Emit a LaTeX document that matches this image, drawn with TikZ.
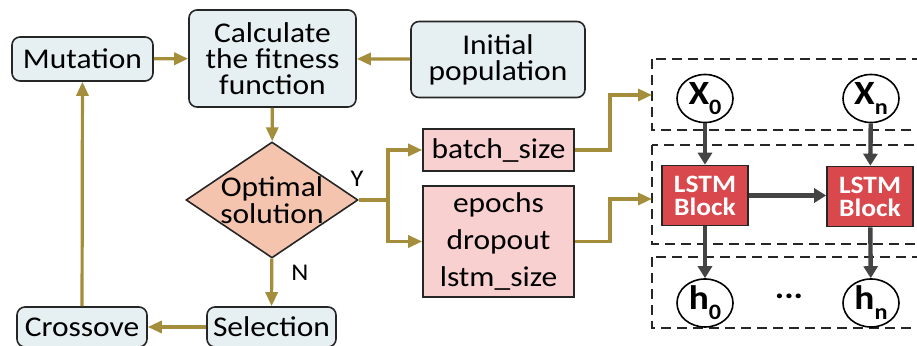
\documentclass[tikz,border=0pt]{standalone}
\usepackage{fontspec}
\setmainfont[FakeStretch=1.1]{Carlito}
\usetikzlibrary{shapes.geometric,arrows.meta}
\definecolor{olive}{HTML}{A48E3C}
\definecolor{boxblue}{HTML}{E6EFF1}
\definecolor{salmon}{HTML}{F4C4AE}
\definecolor{pinkbox}{HTML}{F9D0D0}
\definecolor{lstmred}{HTML}{D9484C}
\definecolor{darkarrow}{HTML}{444444}
\tikzset{
  gabox/.style={draw=black!85, line width=0.8pt, rounded corners=4pt, fill=boxblue, align=center, inner sep=0pt, font=\fontsize{14.3}{13}\selectfont},
  parbox/.style={draw=black!85, line width=0.8pt, fill=pinkbox, align=center, inner sep=0pt, font=\fontsize{14.3}{13}\selectfont},
  flow/.style={draw=olive, line width=1.6pt, -{Triangle[length=7pt,width=6pt]}},
  dashbox/.style={draw=black!85, line width=0.9pt, dash pattern=on 5pt off 3pt},
  lstm/.style={draw=black!85, line width=0.8pt, fill=lstmred, text=white, align=center, inner sep=0pt, minimum width=43pt, minimum height=30pt, font=\fontsize{12.5}{11.5}\selectfont\bfseries},
  state/.style={ellipse, draw=black, line width=0.8pt, fill=white, inner sep=0pt, minimum width=28pt, minimum height=24pt, font=\fontsize{17}{17}\selectfont\bfseries},
  dark/.style={draw=darkarrow, line width=2.2pt, -{Triangle[length=6pt,width=7pt]}},
  lbl/.style={font=\fontsize{12}{12}\selectfont, inner sep=0pt}
}
\newcommand{\subidx}[1]{\raisebox{-0.6ex}{\fontsize{11}{11}\selectfont #1}}
\begin{document}
\begin{tikzpicture}[x=0.5pt,y=-0.5pt]
\useasboundingbox (0,0) rectangle (917,346);
\begin{scope}
\clip (0,0) rectangle (917,346);
% dashed LSTM layers
\draw[dashbox] (652,59) rectangle (940,130);
\draw[dashbox] (652,145) rectangle (940,244);
\draw[dashbox] (652,257) rectangle (940,328);

% GA flowchart boxes
\node[gabox, minimum width=70.5pt, minimum height=22pt] (mut) at (82.5,59) {Mutation};
\node[gabox, minimum width=83.5pt, minimum height=48.5pt] (calc) at (272.5,58.5) {Calculate\\the fitness\\function};
\node[gabox, minimum width=87pt, minimum height=38pt] (init) at (498,59.5) {Initial\\population};
\node[diamond, draw=black!85, line width=0.8pt, fill=salmon, inner sep=-2pt, shape aspect=1.48, minimum width=86pt, minimum height=58pt, align=center, font=\fontsize{14.3}{13.6}\selectfont] (opt) at (272,200) {Optimal\\solution};
\node[gabox, minimum width=65pt, minimum height=20pt] (cross) at (82,327) {Crossove};
\node[gabox, minimum width=64.5pt, minimum height=20pt] (sel) at (271.5,327) {Selection};
\node[parbox, minimum width=75.5pt, minimum height=21pt] (batch) at (498.5,150) {batch\_size};
\node[parbox, minimum width=75.5pt, minimum height=55.5pt, font=\fontsize{14.3}{18.5}\selectfont] (epochs) at (498.5,241.5) {epochs\\dropout\\lstm\_size};

% GA connectors
\draw[flow] (mut) -- (calc);
\draw[flow] (init) -- (calc);
\draw[flow] (calc) -- (opt);
\draw[flow] (opt) -- node[lbl, right=9pt, pos=0.3] (nlab) {N} (sel);
\draw[flow] (sel) -- (cross);
\draw[flow] (cross) -- (mut);
\coordinate (split) at (388,200);
\node[lbl] (ylab) at (357,179) {Y};
\draw[draw=olive, line width=1.6pt] (opt.east) -- (split);
\draw[flow] (split) |- (batch.west);
\draw[flow] (split) |- (epochs.west);
\coordinate (in1) at (652,95);
\coordinate (in2) at (652,199);
\draw[flow] (batch.east) -- (610,150) |- (in1);
\draw[flow] (epochs.east) -- (610,241.5) |- (in2);

% LSTM part
\node[state] (x0) at (705,98.5) {X\subidx{0}};
\node[state] (xn) at (871,98.5) {X\subidx{n}};
\node[state] (h0) at (705,303) {h\subidx{0}};
\node[state] (hn) at (871,303) {h\subidx{n}};
\node[lstm] (l0) at (705,195.5) {LSTM\\Block};
\node[lstm] (l1) at (870,196.5) {LSTM\\Block};
\node[font=\fontsize{16}{16}\selectfont\bfseries, inner sep=0pt] (dots) at (789,296) {...};
\draw[dark] (x0) -- (l0);
\draw[dark] (xn) -- (l1);
\draw[dark] (l0) -- (h0);
\draw[dark] (l1) -- (hn);
\draw[dark] (l0.east) -- (l0.east -| l1.west);
\end{scope}
\end{tikzpicture}
\end{document}
